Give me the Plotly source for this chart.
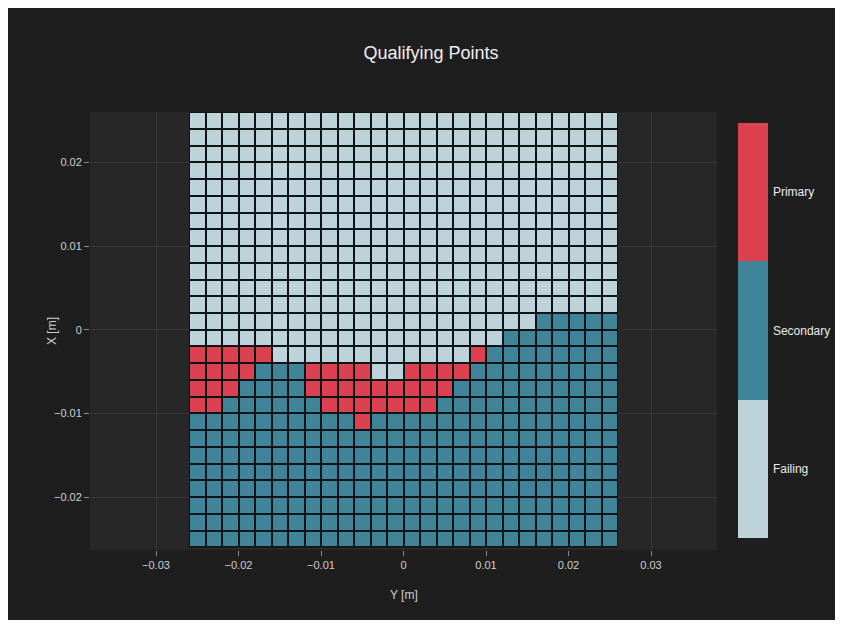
import plotly.graph_objects as go

# Grid coordinates (cell centres, metres)
y_coords = [-0.025, -0.023, -0.021, -0.019, -0.017, -0.015, -0.013, -0.011, -0.009,
            -0.007, -0.005, -0.003, -0.001, 0.001, 0.003, 0.005, 0.007, 0.009,
            0.011, 0.013, 0.015, 0.017, 0.019, 0.021, 0.023, 0.025]          # horizontal axis "Y [m]"
x_coords = [0.025, 0.023, 0.021, 0.019, 0.017, 0.015, 0.013, 0.011, 0.009,
            0.007, 0.005, 0.003, 0.001, -0.001, -0.003, -0.005, -0.007, -0.009,
            -0.011, -0.013, -0.015, -0.017, -0.019, -0.021, -0.023, -0.025]   # vertical axis "X [m]" (top to bottom)

# Category per cell, rows from top to bottom: F = Failing, S = Secondary, P = Primary
grid_rows = [
    "FFFFFFFFFFFFFFFFFFFFFFFFFF",
    "FFFFFFFFFFFFFFFFFFFFFFFFFF",
    "FFFFFFFFFFFFFFFFFFFFFFFFFF",
    "FFFFFFFFFFFFFFFFFFFFFFFFFF",
    "FFFFFFFFFFFFFFFFFFFFFFFFFF",
    "FFFFFFFFFFFFFFFFFFFFFFFFFF",
    "FFFFFFFFFFFFFFFFFFFFFFFFFF",
    "FFFFFFFFFFFFFFFFFFFFFFFFFF",
    "FFFFFFFFFFFFFFFFFFFFFFFFFF",
    "FFFFFFFFFFFFFFFFFFFFFFFFFF",
    "FFFFFFFFFFFFFFFFFFFFFFFFFF",
    "FFFFFFFFFFFFFFFFFFFFFFFFFF",
    "FFFFFFFFFFFFFFFFFFFFFSSSSS",
    "FFFFFFFFFFFFFFFFFFFSSSSSSS",
    "PPPPPFFFFFFFFFFFFPSSSSSSSS",
    "PPPPSSSPPPPFFPPPPSSSSSSSSS",
    "PPPSSSSPPPPPPPPPSSSSSSSSSS",
    "PPSSSSSSPPPPPPPSSSSSSSSSSS",
    "SSSSSSSSSSPSSSSSSSSSSSSSSS",
    "SSSSSSSSSSSSSSSSSSSSSSSSSS",
    "SSSSSSSSSSSSSSSSSSSSSSSSSS",
    "SSSSSSSSSSSSSSSSSSSSSSSSSS",
    "SSSSSSSSSSSSSSSSSSSSSSSSSS",
    "SSSSSSSSSSSSSSSSSSSSSSSSSS",
    "SSSSSSSSSSSSSSSSSSSSSSSSSS",
    "SSSSSSSSSSSSSSSSSSSSSSSSSS",
]

category_names = ["Failing", "Secondary", "Primary"]
category_codes = {"F": 0, "S": 1, "P": 2}
category_colors = ["#bdd2d9", "#3f8499", "#dc4150"]

x_ticks = [-0.03, -0.02, -0.01, 0, 0.01, 0.02, 0.03]
x_tick_labels = ["\u22120.03", "\u22120.02", "\u22120.01", "0", "0.01", "0.02", "0.03"]
y_ticks = [-0.02, -0.01, 0, 0.01, 0.02]
y_tick_labels = ["\u22120.02", "\u22120.01", "0", "0.01", "0.02"]

z = [[category_codes[c] for c in row] for row in grid_rows]

colorscale = [
    [0.0, category_colors[0]], [1 / 3, category_colors[0]],
    [1 / 3, category_colors[1]], [2 / 3, category_colors[1]],
    [2 / 3, category_colors[2]], [1.0, category_colors[2]],
]

FONT = "Liberation Sans, Arial"

fig = go.Figure()
fig.add_trace(go.Heatmap(
    x=y_coords, y=x_coords, z=z,
    colorscale=colorscale, zmin=-0.5, zmax=2.5,
    xgap=2, ygap=2,
    colorbar=dict(
        tickvals=[0, 1, 2], ticktext=category_names,
        x=1.0335, xanchor="left", xpad=0,
        y=0.501, yanchor="middle", ypad=0,
        len=0.947, lenmode="fraction", thickness=30,
        outlinewidth=0, ticks="outside", ticklen=3, tickcolor="rgba(0,0,0,0)",
        tickfont=dict(family=FONT, size=12, color="#ececec"),
    ),
    hoverinfo="skip",
))

half = (y_coords[1] - y_coords[0]) / 2
fig.add_shape(type="rect", xref="x", yref="y",
              x0=min(y_coords) - half, x1=max(y_coords) + half,
              y0=min(x_coords) - half, y1=max(x_coords) + half,
              fillcolor="#0d1417", line=dict(width=0), layer="between")

axis_common = dict(
    showgrid=True, gridcolor="#363636", gridwidth=1,
    zeroline=False, showline=False,
    ticks="outside", ticklen=5, tickcolor="#8a8a8a", tickwidth=1,
    tickfont=dict(family=FONT, size=11, color="#cfcfcf"),
)

fig.update_layout(
    width=846, height=612,
    paper_bgcolor="#1e1e1e", plot_bgcolor="#272727",
    margin=dict(l=82, r=137, t=104, b=70),
    title=dict(text="Qualifying Points", x=0.5, xanchor="center", y=0.9265, yanchor="middle",
               font=dict(family=FONT, size=18, color="#f0f0f0")),
    xaxis=dict(range=[-0.038, 0.038], tickvals=x_ticks, ticktext=x_tick_labels, **axis_common),
    yaxis=dict(range=[-0.0263, 0.026], tickvals=y_ticks, ticktext=y_tick_labels, **axis_common),
    annotations=[
        dict(text="Y [m]", xref="paper", yref="paper", x=0.5, y=0, xanchor="center",
             yanchor="middle", yshift=-45, showarrow=False,
             font=dict(family=FONT, size=12, color="#cfcfcf")),
        dict(text="X [m]", xref="paper", yref="paper", x=0, y=0.5, xanchor="center",
             yanchor="middle", xshift=-38, textangle=-90, showarrow=False,
             font=dict(family=FONT, size=12, color="#cfcfcf")),
    ],
    showlegend=False,
)

fig.write_html("out.html")
